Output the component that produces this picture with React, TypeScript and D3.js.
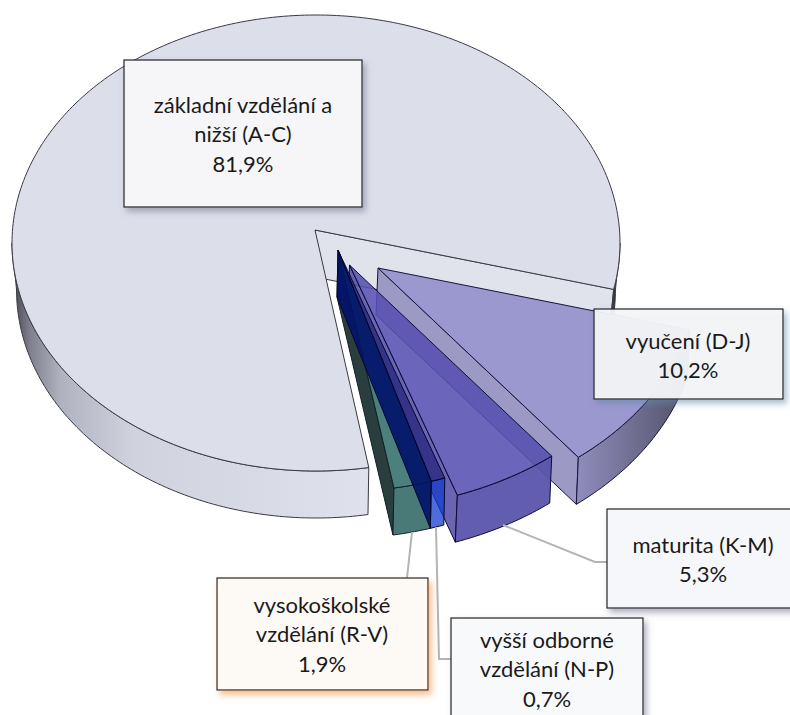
import * as d3 from "d3";

const categories = ["základní vzdělání a nižší (A-C)", "vyučení (D-J)", "maturita (K-M)", "vyšší odborné vzdělání (N-P)", "vysokoškolské vzdělání (R-V)"];
const values = [81.9, 10.2, 5.3, 0.7, 1.9];
const valueLabels = ["81,9%", "10,2%", "5,3%", "0,7%", "1,9%"];
const labelLines = [
  ["základní vzdělání a", "nižší (A-C)"],
  ["vyučení (D-J)"],
  ["maturita (K-M)"],
  ["vyšší odborné", "vzdělání (N-P)"],
  ["vysokoškolské", "vzdělání (R-V)"],
];

const width = 790;
const height = 715;
const rx = 304;
const ry = 228;
const depth = 47;
const deg = Math.PI / 180;

// pie turned so the big slice ends at about 170 deg
const pie = d3.pie<number>().sort(null).startAngle(170 * deg).endAngle(530 * deg);
const arcs = pie(values);

// explosion of each slice
const slices = [
  { cx: 316, cy: 243, ax: 315, ay: 230, k: 1, dx: 0, lowK: 0.985, endFix: -3.1 * deg },
  { cx: 378, cy: 268, ax: 378, ay: 268, k: 1.06, dx: -2, lowK: 1, endFix: 0 },
  { cx: 349.5, cy: 265, ax: 349.5, ay: 265, k: 1.07, dx: -2, lowK: 1, endFix: 0 },
  { cx: 338, cy: 250, ax: 338, ay: 250, k: 1.06, dx: -1, lowK: 1, endFix: 0 },
  { cx: 338, cy: 250, ax: 338, ay: 250, k: 1.06, dx: -1, lowK: 1, endFix: 0 },
];

const colors = [
  { top: "#dcdeea", wall: "#e0e2ec", rim: "url(#rimMain)", stroke: "#3a3a44" },
  { top: "#9b98cf", wall: "#9c9ac4", rim: "url(#rimVyuc)", stroke: "#14143c" },
  { top: "rgba(86,80,178,0.88)", wall: "rgba(80,74,165,0.85)", rim: "rgba(90,84,170,0.95)", stroke: "#0c0c38" },
  { top: "rgba(20,20,110,0.6)", wall: "rgba(0,18,105,0.9)", rim: "rgba(20,60,205,0.75)", stroke: "#060630" },
  { top: "#4c807c", wall: "#2a3e3e", rim: "#4a7a78", stroke: "#10202a" },
];

const boxes = [
  { x: 124, y: 60, w: 238, h: 147, tx: 243, base: 113, fill: "#f6f6f8", filter: "url(#shGray)", op: 1 },
  { x: 594, y: 309, w: 189, h: 90, tx: 688, base: 349, fill: "#f5f6f9", filter: "url(#shBlue)", op: 0.93 },
  { x: 607, y: 509, w: 192, h: 99, tx: 703, base: 553, fill: "#f6f7fa", filter: "url(#shGray)", op: 1 },
  { x: 451, y: 618, w: 192, h: 108, tx: 547, base: 648, fill: "#f8f9fb", filter: "url(#shGray)", op: 1 },
  { x: 217, y: 578, w: 211, h: 112, tx: 322, base: 613, fill: "#fdf9f5", filter: "url(#shOrange)", op: 1 },
];

const leaders: [number, number][][] = [
  [[503, 525], [595, 562], [607, 562]],
  [[436, 527], [439, 659], [451, 659]],
  [[412, 532], [407, 578]],
];

const line = d3.line();

function arcPoints(i: number, from: number, to: number, drop = 0): [number, number][] {
  const s = slices[i];
  const n = Math.max(2, Math.ceil(Math.abs(to - from) / (1 * deg)));
  return d3.range(n + 1).map((j) => {
    const a = from + ((to - from) * j) / n;
    const kx = drop ? s.lowK : 1;
    return [
      s.cx + rx * s.k * kx * Math.sin(a) + (drop ? s.dx : 0),
      s.cy - ry * s.k * Math.cos(a) + drop,
    ] as [number, number];
  });
}

function Slice({ i }: { i: number }) {
  const s = slices[i];
  const c = colors[i];
  const a0 = arcs[i].startAngle;
  const a1 = arcs[i].endAngle + s.endFix;
  const apex: [number, number] = [s.ax, s.ay];
  const apexLow: [number, number] = [s.ax + s.dx, s.ay + depth];
  const outer = arcPoints(i, a0, a1);

  // rim: only the part of the arc that faces the viewer
  const rimRanges: [number, number][] = [];
  for (const off of [0, 360 * deg]) {
    const lo = Math.max(a0, 90 * deg + off);
    const hi = Math.min(a1, 270 * deg + off);
    if (hi > lo) rimRanges.push([lo, hi]);
  }
  // the wall on the clockwise edge is the one that shows
  const wallTop = arcPoints(i, a1, a1 + 0.001)[0];
  const wallLow = arcPoints(i, a1, a1 + 0.001, depth)[0];
  return (
    <g strokeLinejoin="round">
      <title>{categories[i]}</title>
      <path d={line([apex, wallTop, wallLow, apexLow])! + "Z"} fill={c.wall} stroke={c.stroke} strokeWidth={1} />
      {rimRanges.map(([lo, hi], r) => (
        <path
          key={r}
          d={line([...arcPoints(i, lo, hi), ...arcPoints(i, lo, hi, depth).reverse()])! + "Z"}
          fill={c.rim}
          stroke={c.stroke}
          strokeWidth={1}
        />
      ))}
      <path d={line([apex, ...outer])! + "Z"} fill={c.top} stroke={c.stroke} strokeWidth={1} />
    </g>
  );
}

export default function App() {
  return (
    <svg
      width={width}
      height={height}
      viewBox={`0 0 ${width} ${height}`}
      style={{ position: "absolute", left: 0, top: 0, background: "#fff" }}
      fontFamily="Lato, sans-serif"
    >
      <defs>
        <linearGradient id="rimMain" gradientUnits="userSpaceOnUse" x1={12} x2={620} y1={0} y2={0}>
          <stop offset="0" stopColor="#45454f" />
          <stop offset="0.03" stopColor="#80808e" />
          <stop offset="0.08" stopColor="#b0b2c0" />
          <stop offset="0.2" stopColor="#d0d2de" />
          <stop offset="0.58" stopColor="#dfe1ec" />
          <stop offset="0.97" stopColor="#6a6a78" />
          <stop offset="1" stopColor="#202028" />
        </linearGradient>
        <linearGradient id="rimVyuc" gradientUnits="userSpaceOnUse" x1={576} x2={680} y1={0} y2={0}>
          <stop offset="0" stopColor="#908dbc" />
          <stop offset="1" stopColor="#56566e" />
        </linearGradient>
        <filter id="shGray" x="-10%" y="-10%" width="125%" height="125%">
          <feDropShadow dx={3} dy={4} stdDeviation={3} floodColor="#7a7a90" floodOpacity={0.6} />
        </filter>
        <filter id="shBlue" x="-10%" y="-10%" width="125%" height="125%">
          <feDropShadow dx={3} dy={4} stdDeviation={3} floodColor="#5f8aa8" floodOpacity={0.6} />
        </filter>
        <filter id="shOrange" x="-10%" y="-10%" width="125%" height="125%">
          <feDropShadow dx={3} dy={4} stdDeviation={3} floodColor="#f0a060" floodOpacity={0.7} />
        </filter>
      </defs>

      <Slice i={0} />
      <Slice i={1} />
      <Slice i={2} />
      <Slice i={4} />
      <Slice i={3} />

      {leaders.map((pts, i) => (
        <path key={i} d={line(pts)!} fill="none" stroke="#b4b4b4" strokeWidth={2} />
      ))}

      {boxes.map((b, i) => (
        <g key={i}>
          <rect
            x={b.x}
            y={b.y}
            width={b.w}
            height={b.h}
            fill={b.fill}
            fillOpacity={b.op}
            stroke="#222"
            strokeWidth={1.2}
            filter={b.filter}
          />
          <text textAnchor="middle" fontSize={22} fill="#1a1a1a">
            {[...labelLines[i], valueLabels[i]].map((t, j) => (
              <tspan key={j} x={b.tx} y={b.base + j * 29.3}>
                {t}
              </tspan>
            ))}
          </text>
        </g>
      ))}
    </svg>
  );
}
